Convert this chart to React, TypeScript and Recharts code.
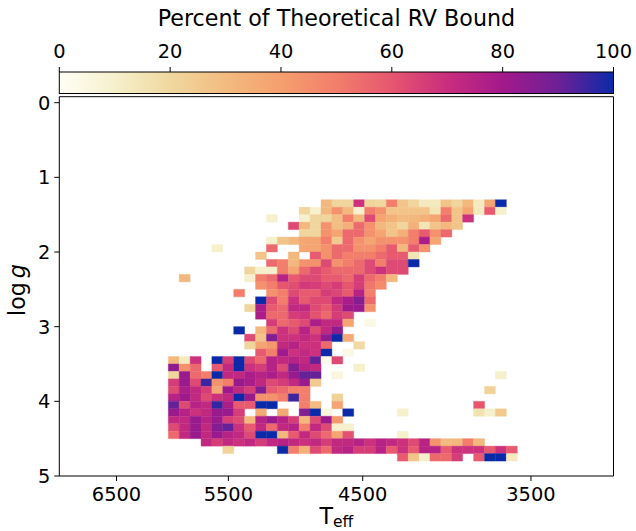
import React from 'react';
import { ComposedChart, XAxis, YAxis, ReferenceArea, Scatter } from 'recharts';

const _ = null;

// Teff bin edges (K), hot -> cool (log-spaced bins)
const teffEdges = [6016, 5919, 5823, 5729, 5637, 5546, 5456, 5368, 5281, 5196, 5112, 5029, 4948, 4868, 4789, 4712, 4636, 4561, 4487, 4415, 4344, 4273, 4204, 4136, 4070, 4004, 3939, 3876, 3813, 3751, 3691, 3631, 3572];

// lower edge of each log g bin (width 0.1)
const loggBins = [1.3, 1.4, 1.5, 1.6, 1.7, 1.8, 1.9, 2.0, 2.1, 2.2, 2.3, 2.4, 2.5, 2.6, 2.7, 2.8, 2.9, 3.0, 3.1, 3.2, 3.3, 3.4, 3.5, 3.6, 3.7, 3.8, 3.9, 4.0, 4.1, 4.2, 4.3, 4.4, 4.5, 4.6, 4.7];

// percent of theoretical RV bound per cell (row = log g bin, column = Teff bin)
const percentRows: (number | null)[][] = [
  [_,_,_,_,_,_,_,_,_,_,_,_,_,_,31,21,21,69,21,20,50,27,21,13,13,27,21,31,13,38,100,_],
  [_,_,_,_,_,_,_,_,_,_,_,_,21,10,31,44,31,10,50,44,27,27,27,27,15,50,27,38,13,59,10,_],
  [_,_,_,_,_,_,_,_,_,10,_,_,10,21,21,29,50,31,63,38,34,30,31,34,38,55,27,69,_,_,_,_],
  [_,_,_,_,_,_,_,_,_,_,_,63,31,21,44,29,34,55,44,31,27,21,34,15,27,31,27,_,_,_,_,_],
  [_,_,_,_,_,_,_,_,_,_,_,_,21,21,44,38,55,55,44,38,27,34,50,59,44,55,_,_,_,_,_,_],
  [_,_,_,_,_,_,_,_,_,10,27,31,38,38,50,25,55,44,38,44,44,44,50,78,38,_,_,_,_,_,_,_],
  [_,_,_,_,10,_,_,_,_,55,_,_,38,38,44,55,55,44,44,50,59,31,59,44,_,_,_,_,_,_,_,_],
  [_,_,_,_,_,_,_,_,27,_,_,31,_,59,44,55,50,50,50,55,59,59,15,_,_,_,_,_,_,_,_,_],
  [_,_,_,_,_,_,_,_,_,55,50,31,44,44,63,44,50,55,63,50,63,63,100,_,_,_,_,_,_,_,_,_],
  [_,_,_,_,_,_,_,21,10,10,50,38,55,63,59,55,55,55,63,69,63,63,_,_,_,_,_,_,_,_,_,_],
  [_,31,_,_,_,_,_,10,50,55,75,59,63,63,59,59,55,66,55,50,31,_,_,_,_,_,_,_,_,_,_,_],
  [_,_,_,_,_,_,_,_,44,50,60,62,67,66,63,66,60,66,52,46,_,_,_,_,_,_,_,_,_,_,_,_],
  [_,_,_,_,_,_,50,_,_,44,50,63,59,59,66,64,59,75,50,_,_,_,_,_,_,_,_,_,_,_,_,_],
  [_,_,_,_,_,_,_,_,100,63,50,69,59,63,63,72,78,86,55,_,_,_,_,_,_,_,_,_,_,_,_,_],
  [_,_,_,_,_,_,_,21,78,59,55,72,72,63,59,67,81,82,44,_,_,_,_,_,_,_,_,_,_,_,_,_],
  [_,_,_,_,_,_,_,_,78,55,55,66,68,61,55,66,63,_,_,_,_,_,_,_,_,_,_,_,_,_,_,_],
  [_,_,_,_,_,_,_,_,_,66,55,59,63,78,72,72,38,_,4,_,_,_,_,_,_,_,_,_,_,_,_,_],
  [_,_,_,_,_,_,100,_,31,55,69,63,75,63,72,84,_,_,_,_,_,_,_,_,_,_,_,_,_,_,_,_],
  [_,_,_,_,_,_,_,63,27,86,69,69,72,69,84,100,36,_,_,_,_,_,_,_,_,_,_,_,_,_,_,_],
  [_,_,_,_,_,_,_,21,38,42,72,75,69,69,55,_,_,19,_,_,_,_,_,_,_,_,_,_,_,_,_,_],
  [_,_,_,_,_,_,_,_,59,50,81,69,72,69,100,_,4,_,_,_,_,_,_,_,_,_,_,_,_,_,_,_],
  [31,13,69,_,100,66,100,63,55,75,72,75,72,91,4,63,_,_,_,_,_,_,_,_,_,_,_,_,_,_,_,_],
  [84,44,55,_,59,72,100,69,66,75,63,86,75,72,_,_,_,10,_,_,_,_,_,_,_,_,_,_,_,_,_,_],
  [21,82,55,50,100,72,72,78,75,78,72,82,91,91,_,6,_,_,_,_,_,_,_,_,_,_,_,_,_,_,10,_],
  [66,82,63,95,44,50,82,78,72,63,66,72,82,25,_,_,_,_,_,_,_,_,_,_,_,_,_,_,_,_,_,_],
  [63,78,72,66,38,81,72,66,86,59,55,50,50,_,_,_,_,_,_,_,_,_,_,_,_,_,_,_,_,22,_,_],
  [75,81,72,63,69,72,100,82,44,44,50,95,50,_,_,22,_,_,_,_,_,_,_,_,_,_,_,_,_,_,_,_],
  [91,63,75,72,96,78,59,59,100,100,_,_,50,30,_,38,_,_,_,_,_,_,_,_,_,_,_,_,60,_,_,_],
  [82,75,69,72,82,82,66,_,36,_,36,_,86,100,6,_,100,_,_,_,_,10,_,_,_,_,_,_,16,10,25,_],
  [72,72,82,75,82,66,63,31,75,82,75,66,31,63,82,42,_,_,_,_,_,_,_,_,_,_,_,_,_,_,_,_],
  [63,72,82,72,86,91,69,59,72,55,72,75,50,72,63,10,10,_,_,_,_,_,_,_,_,_,_,_,_,_,_,_],
  [55,72,82,72,82,75,72,63,100,100,31,59,72,63,55,38,61,_,_,_,_,10,_,_,_,_,_,_,_,_,_,_],
  [_,_,_,72,66,72,69,72,66,72,75,72,69,72,66,72,72,75,69,75,72,69,63,75,44,30,31,50,31,_,_,_],
  [_,_,_,_,_,22,_,_,_,_,100,50,34,63,55,72,75,66,66,75,59,69,59,75,75,59,69,69,69,59,69,59],
  [_,_,_,_,_,_,_,_,_,_,_,_,_,_,_,_,_,_,_,_,_,59,27,10,55,55,66,_,59,100,100,13],
];

const xTicks = [6500, 5500, 4500, 3500];
const yTicks = [0, 1, 2, 3, 4, 5];
const colorbarTicks = [0, 20, 40, 60, 80, 100];
const xDomain = [3094, 7080];
const yDomain = [-0.08, 5];

const cmapStops: [number, string][] = [
  [0, '#fffef6'], [10, '#f6f0cc'], [20, '#f0d89f'], [30, '#f3bb80'], [40, '#f59f6e'],
  [50, '#f27e6b'], [60, '#e6566f'], [70, '#c92d7e'], [80, '#a3198b'], [90, '#6e2096'], [100, '#0b2aa9'],
];

function hexToRgb(h: string) {
  return [parseInt(h.slice(1, 3), 16), parseInt(h.slice(3, 5), 16), parseInt(h.slice(5, 7), 16)];
}
function cmap(v: number) {
  const t = Math.max(0, Math.min(100, v));
  for (let i = 0; i < cmapStops.length - 1; i++) {
    const [a, ca] = cmapStops[i];
    const [b, cb] = cmapStops[i + 1];
    if (t <= b) {
      const f = (t - a) / (b - a);
      const A = hexToRgb(ca), B = hexToRgb(cb);
      const c = A.map((x, k) => Math.round(x + (B[k] - x) * f));
      return `rgb(${c[0]},${c[1]},${c[2]})`;
    }
  }
  return cmapStops[cmapStops.length - 1][1];
}

type Cell = { c: number; r: number; v: number; teff: number; logg: number };
const cells: Cell[] = [];
percentRows.forEach((row, r) => {
  row.forEach((v, c) => {
    if (v !== null && v !== undefined) {
      cells.push({ c, r, v, teff: Math.sqrt(teffEdges[c] * teffEdges[c + 1]), logg: loggBins[r] + 0.05 });
    }
  });
});

const FONT = 'DejaVu Sans';
const W = 636, H = 531;
const plotLeft = 59.3, plotRight = 613.5;
const plotW = plotRight - plotLeft;

export default function App() {
  return (
    <div style={{ position: 'relative', width: W, height: H, background: '#fff', fontFamily: FONT }}>
      <style>{'body{margin:0;background:#fff}'}</style>
      <ComposedChart
        width={W}
        height={H}
        data={cells}
        margin={{ top: 96.7, right: W - plotRight, bottom: 5, left: plotLeft - 50 }}
      >
        <XAxis
          type="number"
          dataKey="teff"
          scale="log"
          domain={xDomain}
          reversed
          allowDataOverflow
          ticks={xTicks}
          interval={0}
          height={50}
          tickSize={5}
          tickMargin={6}
          axisLine={false}
          tickLine={{ stroke: '#000' }}
          tick={{ fontSize: 19.4, fill: '#000', fontFamily: FONT }}
        />
        <YAxis
          type="number"
          dataKey="logg"
          domain={yDomain}
          reversed
          allowDataOverflow
          ticks={yTicks}
          interval={0}
          width={50}
          tickSize={5}
          tickMargin={4}
          axisLine={false}
          tickLine={{ stroke: '#000' }}
          tick={{ fontSize: 19.4, fill: '#000', fontFamily: FONT }}
        />
        {cells.map((cell) => {
          const col = cmap(cell.v);
          return (
            <ReferenceArea
              key={`${cell.r}-${cell.c}`}
              x1={teffEdges[cell.c + 1]}
              x2={teffEdges[cell.c]}
              y1={loggBins[cell.r]}
              y2={Math.round((loggBins[cell.r] + 0.1) * 100) / 100}
              fill={col}
              fillOpacity={1}
              stroke={col}
              strokeWidth={0.4}
              ifOverflow="visible"
            />
          );
        })}
        <ReferenceArea
          x1={xDomain[0]}
          x2={xDomain[1]}
          y1={yDomain[0]}
          y2={yDomain[1]}
          fill="none"
          fillOpacity={0}
          stroke="#000"
          strokeWidth={1}
          ifOverflow="visible"
        />
        <Scatter data={cells} dataKey="logg" isAnimationActive={false} shape={() => <g />} legendType="none" />
      </ComposedChart>
      <svg width={W} height={H} style={{ position: 'absolute', left: 0, top: 0, pointerEvents: 'none' }}>
        <defs>
          <linearGradient id="cbar" x1="0" y1="0" x2="1" y2="0">
            {cmapStops.map(([p, c]) => (
              <stop key={p} offset={`${p}%`} stopColor={c} />
            ))}
          </linearGradient>
        </defs>
        <text x={(plotLeft + plotRight) / 2} y={26} textAnchor="middle" fontSize={22.2} fontFamily={FONT} fill="#000">
          Percent of Theoretical RV Bound
        </text>
        <rect x={plotLeft} y={72} width={plotW} height={21.5} fill="url(#cbar)" stroke="#000" strokeWidth={1} />
        {colorbarTicks.map((t) => {
          const x = plotLeft + (t / 100) * plotW;
          return (
            <g key={t}>
              <line x1={x} x2={x} y1={72} y2={67} stroke="#000" strokeWidth={1} />
              <text x={x} y={57.5} textAnchor="middle" fontSize={19.4} fontFamily={FONT} fill="#000">
                {t}
              </text>
            </g>
          );
        })}
        <text
          transform="translate(25,290) rotate(-90)"
          textAnchor="middle"
          fontSize={22.2}
          fontFamily={FONT}
          fill="#000"
        >
          log<tspan dx={4} fontStyle="italic">g</tspan>
        </text>
        <text x={(plotLeft + plotRight) / 2} y={524} textAnchor="middle" fontSize={22.2} fontFamily={FONT} fill="#000">
          T<tspan fontSize={15.5} dy={3}>eff</tspan>
        </text>
      </svg>
    </div>
  );
}
